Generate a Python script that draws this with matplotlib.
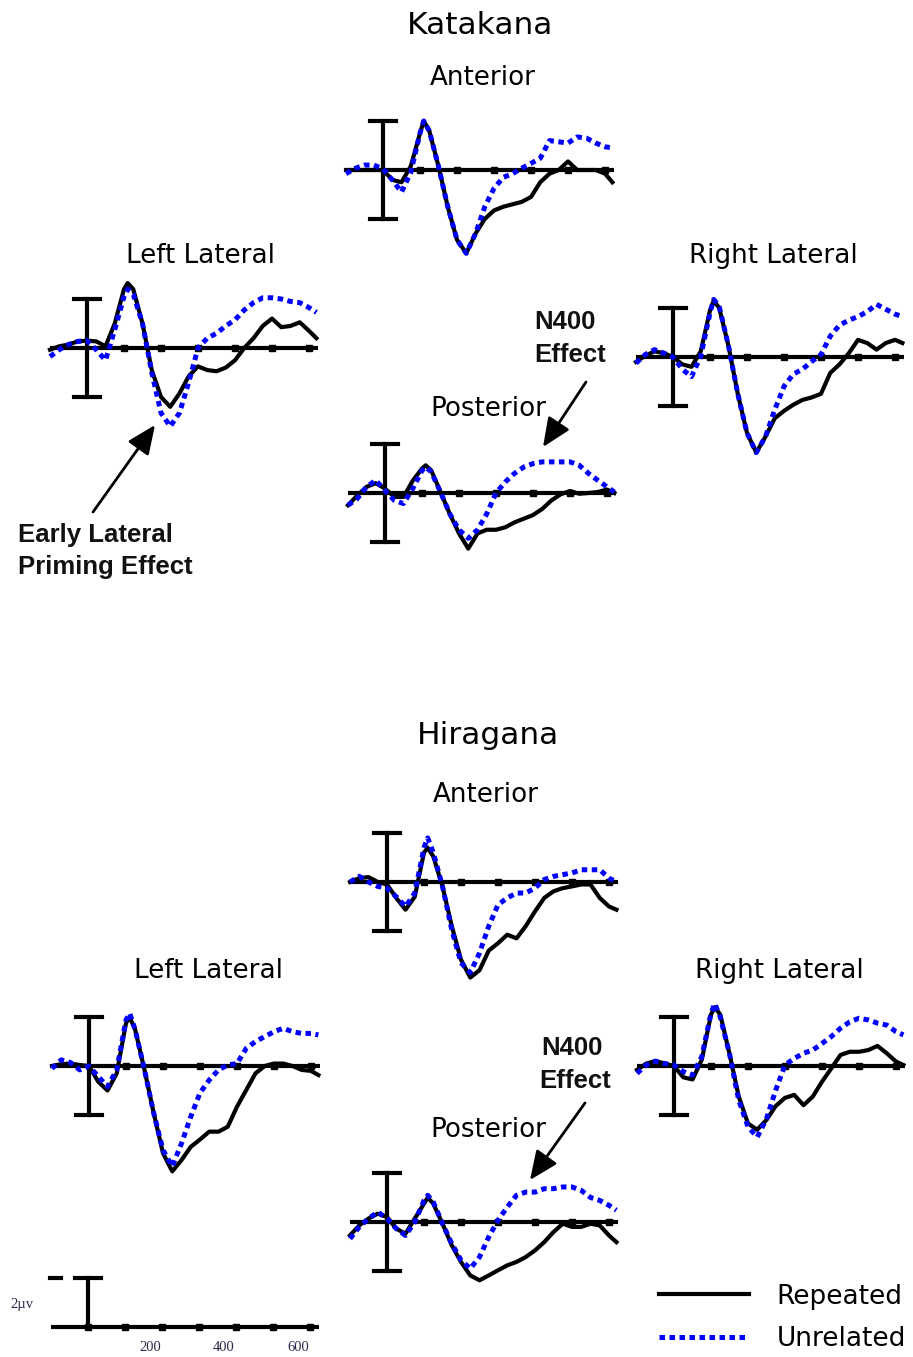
import matplotlib
matplotlib.use("Agg")
import matplotlib.pyplot as plt

# time points (ms) shared by every waveform
TIMES = [-100, -75, -50, -25, 0, 25, 50, 75, 100, 110, 125, 150, 175, 200, 225, 250,
         275, 300, 325, 350, 375, 400, 425, 450, 475, 500, 525, 550, 575, 600, 620]

# Katakana waveforms (uV)
kat_ant_rep = [0, 0, 0, 0, 0, -0.4, -0.5, 0.15, 1.5, 2.0, 1.6, 0.15, -1.5, -2.85, -3.4, -2.6,
               -2.0, -1.65, -1.5, -1.4, -1.3, -1.1, -0.5, -0.15, 0, 0.35, 0, 0, 0, -0.15, -0.5]
kat_ant_unr = [-0.15, 0.07, 0.2, 0.2, 0.05, -0.4, -0.9, -0.1, 1.5, 2.0, 1.6, 0.15, -1.5, -2.85, -3.4, -2.6,
               -1.5, -0.75, -0.3, -0.15, 0.07, 0.27, 0.48, 1.2, 1.15, 1.1, 1.35, 1.3, 1.1, 0.95, 0.9]
kat_left_rep = [-0.07, 0.07, 0.14, 0.27, 0.3, 0.27, 0.07, 1.0, 2.4, 2.65, 2.4, 1.0, -0.9, -2.0, -2.4, -1.85,
                -1.15, -0.75, -0.9, -0.95, -0.8, -0.5, 0, 0.4, 0.9, 1.2, 0.85, 0.9, 1.05, 0.7, 0.4]
kat_left_unr = [-0.35, -0.07, 0.14, 0.27, 0.3, -0.07, -0.5, 0.75, 2.1, 2.4, 2.2, 1.0, -1.0, -2.65, -3.2, -2.65,
                -1.4, 0, 0.4, 0.6, 0.9, 1.15, 1.55, 1.85, 2.05, 2.05, 2.0, 1.9, 1.85, 1.65, 1.45]
kat_right_rep = [-0.2, 0.05, 0.23, 0.16, 0, -0.3, -0.4, 0.23, 1.9, 2.3, 2.0, 0.45, -1.5, -3.1, -3.9, -3.25,
                 -2.5, -2.2, -1.95, -1.75, -1.65, -1.5, -0.65, -0.3, 0.15, 0.7, 0.57, 0.3, 0.57, 0.7, 0.57]
kat_right_unr = [-0.25, 0.1, 0.3, 0.16, 0, -0.5, -0.8, 0.03, 1.8, 2.35, 2.05, 0.45, -1.5, -3.1, -3.9, -3.25,
                 -2.15, -1.2, -0.7, -0.5, -0.18, 0.1, 0.85, 1.3, 1.5, 1.65, 1.85, 2.15, 1.95, 1.75, 1.65]
kat_post_rep = [-0.5, -0.1, 0.25, 0.4, 0.18, -0.16, -0.16, 0.5, 1.0, 1.13, 0.92, 0.04, -0.85, -1.65, -2.27, -1.65,
                -1.5, -1.5, -1.4, -1.2, -1.05, -0.9, -0.65, -0.3, -0.05, 0.08, -0.03, 0, 0.04, 0.14, 0]
kat_post_unr = [-0.5, -0.23, 0.25, 0.52, 0.1, -0.3, -0.43, 0.18, 0.92, 1.06, 0.86, 0.04, -0.85, -1.5, -1.85, -1.5,
                -0.85, 0, 0.45, 0.8, 1.06, 1.2, 1.27, 1.27, 1.27, 1.27, 1.13, 0.8, 0.52, 0.25, 0.04]

# Hiragana waveforms (uV)
hir_ant_rep = [0, 0.16, 0.2, 0, -0.1, -0.65, -1.13, -0.6, 1.2, 1.4, 1.05, -0.18, -1.8, -3.17, -3.9, -3.6,
               -2.8, -2.5, -2.15, -2.3, -1.8, -1.2, -0.65, -0.38, -0.25, -0.18, -0.1, -0.1, -0.65, -1.0, -1.13]
hir_ant_unr = [0, 0.23, 0, -0.18, -0.25, -0.6, -1.0, -0.45, 1.4, 1.8, 1.2, -0.18, -1.95, -3.3, -3.7, -2.9,
               -1.8, -0.93, -0.65, -0.45, -0.45, -0.25, 0.1, 0.23, 0.3, 0.37, 0.5, 0.5, 0.5, 0.16, 0]
hir_left_rep = [0, 0.08, 0.1, 0.04, 0, -0.64, -1.0, -0.3, 1.75, 2.0, 1.47, -0.16, -1.93, -3.56, -4.3, -3.84,
                -3.3, -3.0, -2.68, -2.68, -2.48, -1.66, -0.98, -0.3, 0, 0.1, 0.1, 0, -0.16, -0.2, -0.37]
hir_left_unr = [-0.1, 0.25, 0.14, -0.16, 0, -0.43, -0.84, -0.16, 1.88, 2.15, 1.47, -0.16, -1.93, -3.43, -4.1, -3.16,
                -2.07, -1.1, -0.57, -0.16, 0.04, 0.1, 0.72, 1.0, 1.2, 1.4, 1.54, 1.4, 1.33, 1.33, 1.27]
hir_right_rep = [-0.16, 0.1, 0.2, 0.1, 0, -0.46, -0.55, 0.25, 2.1, 2.4, 2.1, 0.5, -1.25, -2.35, -2.6, -2.2,
                 -1.63, -1.3, -1.18, -1.6, -1.25, -0.64, -0.1, 0.45, 0.58, 0.58, 0.65, 0.82, 0.52, 0.18, 0.04]
hir_right_unr = [-0.3, 0.04, 0.2, 0.1, 0.04, -0.23, -0.37, 0.38, 2.15, 2.55, 2.0, 0.5, -1.4, -2.48, -2.9, -2.15,
                 -0.98, 0.04, 0.31, 0.52, 0.65, 0.92, 1.2, 1.54, 1.8, 1.95, 1.88, 1.75, 1.67, 1.4, 1.27]
hir_post_rep = [-0.55, -0.14, 0.14, 0.34, 0.2, -0.27, -0.48, 0.14, 0.75, 1.0, 0.75, -0.07, -0.95, -1.63, -2.18, -2.38,
                -2.18, -1.97, -1.77, -1.63, -1.43, -1.16, -0.82, -0.41, -0.07, -0.2, -0.2, -0.07, -0.14, -0.55, -0.82]
hir_post_unr = [-0.68, -0.2, 0.14, 0.41, 0.14, -0.27, -0.55, 0, 0.88, 1.09, 0.82, -0.07, -0.88, -1.56, -1.9, -1.43,
                -0.61, 0.07, 0.61, 1.09, 1.22, 1.22, 1.36, 1.36, 1.43, 1.43, 1.29, 1.0, 0.88, 0.68, 0.48]

AXIS_TICKS = [100, 200, 300, 400, 500, 600]
CAL_LABELS = [200, 400, 600]
BAR_UV = 2
SERIES_NAMES = ["Repeated", "Unrelated"]

W, H = 913, 1357
PX_MS = 0.37   # pixels per millisecond
PX_UV = 24.5   # pixels per microvolt
BLUE = "#0000ff"

fig = plt.figure(figsize=(W / 100, H / 100), dpi=100)
fig.patch.set_facecolor("white")


def panel_axes(bx, by):
    x0, x1, y0, y1 = -130, 660, -5, 3.5
    left = bx + x0 * PX_MS
    top = by - y1 * PX_UV
    w = (x1 - x0) * PX_MS
    h = (y1 - y0) * PX_UV
    ax = fig.add_axes([left / W, 1 - (top + h) / H, w / W, h / H])
    ax.set_xlim(x0, x1)
    ax.set_ylim(y0, y1)
    ax.axis("off")
    ax.patch.set_alpha(0)
    return ax


def draw_frame(ax, full_bar=True):
    ax.plot([-100, 625], [0, 0], color="black", lw=3, solid_capstyle="butt", zorder=2)
    ax.plot(AXIS_TICKS, [0] * len(AXIS_TICKS), "s", color="black", ms=4.5, zorder=2)
    lo = -BAR_UV if full_bar else 0
    ax.plot([0, 0], [lo, BAR_UV], color="black", lw=3, zorder=2)
    ax.plot([-35, 35], [BAR_UV, BAR_UV], color="black", lw=3, zorder=2)
    if full_bar:
        ax.plot([-35, 35], [-BAR_UV, -BAR_UV], color="black", lw=3, zorder=2)


panels = [
    (383, 170, kat_ant_rep, kat_ant_unr),
    (87, 348, kat_left_rep, kat_left_unr),
    (673, 357, kat_right_rep, kat_right_unr),
    (385, 493, kat_post_rep, kat_post_unr),
    (387, 882, hir_ant_rep, hir_ant_unr),
    (89, 1066, hir_left_rep, hir_left_unr),
    (674, 1066, hir_right_rep, hir_right_unr),
    (387, 1222, hir_post_rep, hir_post_unr),
]

handles = []
for bx, by, rep, unr in panels:
    ax = panel_axes(bx, by)
    draw_frame(ax)
    l1, = ax.plot(TIMES, rep, color="black", lw=3, zorder=3)
    l2, = ax.plot(TIMES, unr, color=BLUE, lw=3.6, dashes=(1.1, 0.9), zorder=4)
    handles = [l1, l2]

# calibration
cal = panel_axes(88, 1327)
draw_frame(cal, full_bar=False)
cal.plot([-103, -72], [BAR_UV, BAR_UV], color="black", lw=3)
cal.plot([0], [0], "s", color="black", ms=4.5)
for v in CAL_LABELS:
    cal.text(v - 33, -0.85, str(v), ha="center", va="center", fontsize=10.5,
             family="Liberation Serif", color="#2b2b4a")
cal.text(-178, 0.9, "2\u00b5v", ha="center", va="center", fontsize=10.5,
         family="Liberation Serif", color="#2b2b4a")

# overlay for titles and annotations, in pixel coordinates
ov = fig.add_axes([0, 0, 1, 1])
ov.set_xlim(0, W)
ov.set_ylim(H, 0)
ov.axis("off")
ov.patch.set_alpha(0)

ov.text(480, 25, "Katakana", ha="center", va="center", fontsize=22.5)
ov.text(488, 735, "Hiragana", ha="center", va="center", fontsize=22.5)

titles = [
    (483, 78, "Anterior"), (201, 256, "Left Lateral"), (773, 256, "Right Lateral"),
    (488, 409, "Posterior"), (486, 795, "Anterior"), (208, 971, "Left Lateral"),
    (779, 971, "Right Lateral"), (488, 1130, "Posterior"),
]
for x, y, s in titles:
    ov.text(x, y, s, ha="center", va="center", fontsize=18.8)

bold = dict(fontsize=18.5, fontweight="bold", family="Liberation Sans", color="#111111")
ov.text(565, 322, "N400", ha="center", va="center", **bold)
ov.text(570, 355, "Effect", ha="center", va="center", **bold)
ov.text(572, 1048, "N400", ha="center", va="center", **bold)
ov.text(575, 1081, "Effect", ha="center", va="center", **bold)
ov.text(18, 535, "Early Lateral", ha="left", va="center", **bold)
ov.text(18, 567, "Priming Effect", ha="left", va="center", **bold)

arrow = dict(arrowstyle="-|>,head_length=0.8,head_width=0.35", lw=2, color="black",
             mutation_scale=22, shrinkA=0, shrinkB=0)
ov.annotate("", xy=(543, 447), xytext=(586, 382), arrowprops=arrow)
ov.annotate("", xy=(530, 1180), xytext=(585, 1103), arrowprops=arrow)
ov.annotate("", xy=(155, 425), xytext=(93, 512), arrowprops=arrow)

fig.legend(handles, SERIES_NAMES, loc="lower right", bbox_to_anchor=(906 / W, 1 - 1352 / H),
           frameon=False, fontsize=19, handlelength=3.4, handletextpad=1.05, labelspacing=0.62,
           borderaxespad=0, borderpad=0)

fig.savefig("out.png", dpi=100, facecolor="white")
